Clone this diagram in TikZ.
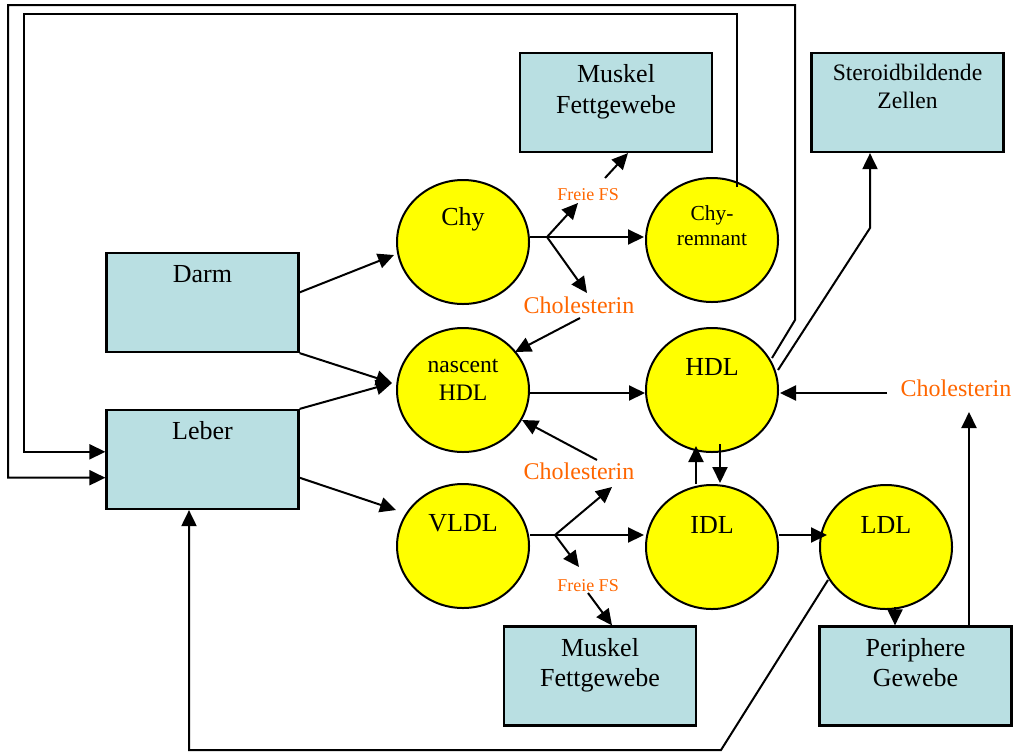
\documentclass[tikz,border=0pt]{standalone}
\usepackage{fontspec}
\setmainfont{Liberation Serif}
\usetikzlibrary{arrows.meta,shapes.geometric,calc}
\definecolor{boxfill}{RGB}{185,223,226}
\definecolor{lipo}{RGB}{255,255,0}
\definecolor{orangetxt}{RGB}{255,102,0}
\begin{document}
\begin{tikzpicture}[x=1pt,y=-1pt,
  box/.style={draw, line width=2.2pt, fill=boxfill, minimum width=192pt, minimum height=99pt, inner sep=0pt},
  lip/.style={ellipse, draw, line width=2pt, fill=lipo, minimum width=132pt, minimum height=124pt, inner sep=0pt},
  txt/.style={inner sep=0pt, anchor=base, align=center, font={\fontsize{26}{31}\selectfont}},
  smalltxt/.style={txt, font={\fontsize{23.6}{28}\selectfont}},
  remtxt/.style={txt, font={\fontsize{21.4}{25}\selectfont}},
  otxt/.style={inner sep=0pt, anchor=base, text=orangetxt, font={\fontsize{24}{28}\selectfont}},
  ffstxt/.style={otxt, font={\fontsize{18}{21}\selectfont}},
  conn/.style={line width=2pt, -{Triangle[length=16pt,width=15pt]}},
  plain/.style={line width=2pt}
]
\useasboundingbox (0,0) rectangle (1016,753);

% boxes
\node[box] (mus1) at (616,102.5) {};
\node[box] (ster) at (907.5,102.5) {};
\node[box] (darm) at (202.5,302.5) {};
\node[box] (leber) at (202.5,459.5) {};
\node[box] (mus2) at (600,676) {};
\node[box] (per) at (915.5,676) {};

% lipoproteins
\node[lip] (chy) at (463,242) {};
\node[lip] (nhdl) at (463,390) {};
\node[lip] (vldl) at (463,546) {};
\node[lip] (rem) at (712,240) {};
\node[lip] (hdl) at (712,390) {};
\node[lip] (idl) at (712,547) {};
\node[lip] (ldl) at (886,547) {};

% texts (base = baseline of the last line)
\node[txt] (darm-t) at ($(darm.north)+(0,31)$) {Darm};
\node[txt] (leber-t) at ($(leber.north)+(0,31)$) {Leber};
\node[txt] (mus1-t) at ($(mus1.north)+(0,62)$) {Muskel\\Fettgewebe};
\node[smalltxt] (ster-t) at ($(ster.north)+(0,57)$) {Steroidbildende\\Zellen};
\node[txt, font={\fontsize{26}{30}\selectfont}] (mus2-t) at ($(mus2.north)+(0,61)$) {Muskel\\Fettgewebe};
\node[txt, font={\fontsize{26}{30}\selectfont}] (per-t) at ($(per.north)+(0,61)$) {Periphere\\Gewebe};
\node[txt] (chy-t) at ($(chy.center)+(0,-17)$) {Chy};
\node[smalltxt] (nhdl-t) at ($(nhdl.center)+(0,10)$) {nascent\\HDL};
\node[txt] (vldl-t) at ($(vldl.center)+(0,-15)$) {VLDL};
\node[remtxt] (rem-t) at ($(rem.center)+(0,5)$) {Chy-\\remnant};
\node[txt] (hdl-t) at ($(hdl.center)+(0,-15)$) {HDL};
\node[txt] (idl-t) at ($(idl.center)+(0,-14)$) {IDL};
\node[txt] (ldl-t) at ($(ldl.center)+(0,-14)$) {LDL};

% orange labels
\node[ffstxt] (ffs1) at (588,200) {Freie FS};
\node[otxt] (cho1) at (579,313) {Cholesterin};
\node[otxt] (cho2) at (579,479) {Cholesterin};
\node[otxt] (cho3) at (956,396) {Cholesterin};
\node[ffstxt] (ffs2) at (588,591) {Freie FS};

% branch points and frame corners
\coordinate (b1) at (547,237);
\coordinate (b2) at (555,535);
\coordinate (outerTL) at (8,5);
\coordinate (innerTL) at (24,14);
\coordinate (bottomL) at (189,750);

% Darm / Leber outputs
\draw[conn] ($(darm.north east)!0.4!(darm.south east)$) -- ($(chy.west)+(-2,13)$);
\draw[conn] (darm.south east) -- ($(nhdl.west)+(-4,-7)$);
\draw[conn] (leber.north east) -- ($(nhdl.west)+(-4,-7)$);
\draw[conn] ($(leber.north east)!0.68!(leber.south east)$) -- ($(vldl.west)+(0,-36)$);

% Chy branch
\draw[plain] ($(chy.east)+(0,-5)$) -- (b1);
\draw[conn] (b1) -- ($(rem.west)+(-1,-3)$);
\draw[conn] (b1) -- ($(ffs1.base)+(-10,3)$);
\draw[conn] (b1) -- ($(cho1.base)+(8,-20)$);
\draw[conn] ($(ffs1.base)+(17,-22)$) -- ($(mus1.south)+(12,0)$);

% cholesterol to nascent HDL
\draw[conn] ($(cho1.base)+(1,5)$) -- ($(nhdl.center)+(52,-38)$);
\draw[conn] ($(cho2.base)+(18,-19)$) -- ($(nhdl.center)+(59,30)$);

% nascent HDL -> HDL
\draw[conn] ($(nhdl.east)+(0,3)$) -- ($(hdl.west)+(0,3)$);
\draw[conn] ($(cho3.base)+(-69,-3)$) -- ($(hdl.east)+(1,3)$);

% HDL <-> IDL
\draw[conn] ($(idl.north)+(-16,0)$) -- ($(hdl.south)+(-16,-7)$);
\draw[conn] ($(hdl.south)+(8,-9)$) -- ($(idl.north)+(8,-1)$);

% VLDL branch
\draw[plain] ($(vldl.east)+(0,-11)$) -- (b2);
\draw[conn] (b2) -- ($(idl.west)+(-1,-12)$);
\draw[conn] (b2) -- ($(cho2.base)+(33,8)$);
\draw[conn] (b2) -- ($(ffs2.base)+(-9,-24)$);
\draw[conn] ($(ffs2.base)+(0,2)$) -- ($(mus2.north)+(12,0)$);

% IDL -> LDL -> Periphere
\draw[conn] ($(idl.east)+(0,-12)$) -- ($(ldl.west)+(8,-12)$);
\draw[conn] ($(ldl.south)+(9,-3)$) -- ($(per.north)+(-20.5,0)$);
\draw[conn] ($(per.north)+(53.5,0)$) -- ($(cho3.base)+(13,16)$);

% HDL -> Steroidbildende Zellen
\draw[conn] ($(hdl.center)+(66,-20)$) -- ++(92,-142) -- ($(ster.south)+(-37.5,0)$);

% LDL -> Leber
\draw[conn] ($(ldl.center)+(-58,33)$) -- ++(-107,170) -- (bottomL) -- ($(leber.south)+(-13.5,0)$);

% HDL -> Leber (outer frame)
\draw[conn] ($(hdl.center)+(60,-32)$) -- ++(23,-38) |- (outerTL) |- ($(leber.north west)!0.68!(leber.south west)$);

% Chy-remnant -> Leber (inner frame)
\draw[conn] ($(rem.center)+(25,-53)$) |- (innerTL) |- ($(leber.north west)!0.424!(leber.south west)$);
\end{tikzpicture}
\end{document}
